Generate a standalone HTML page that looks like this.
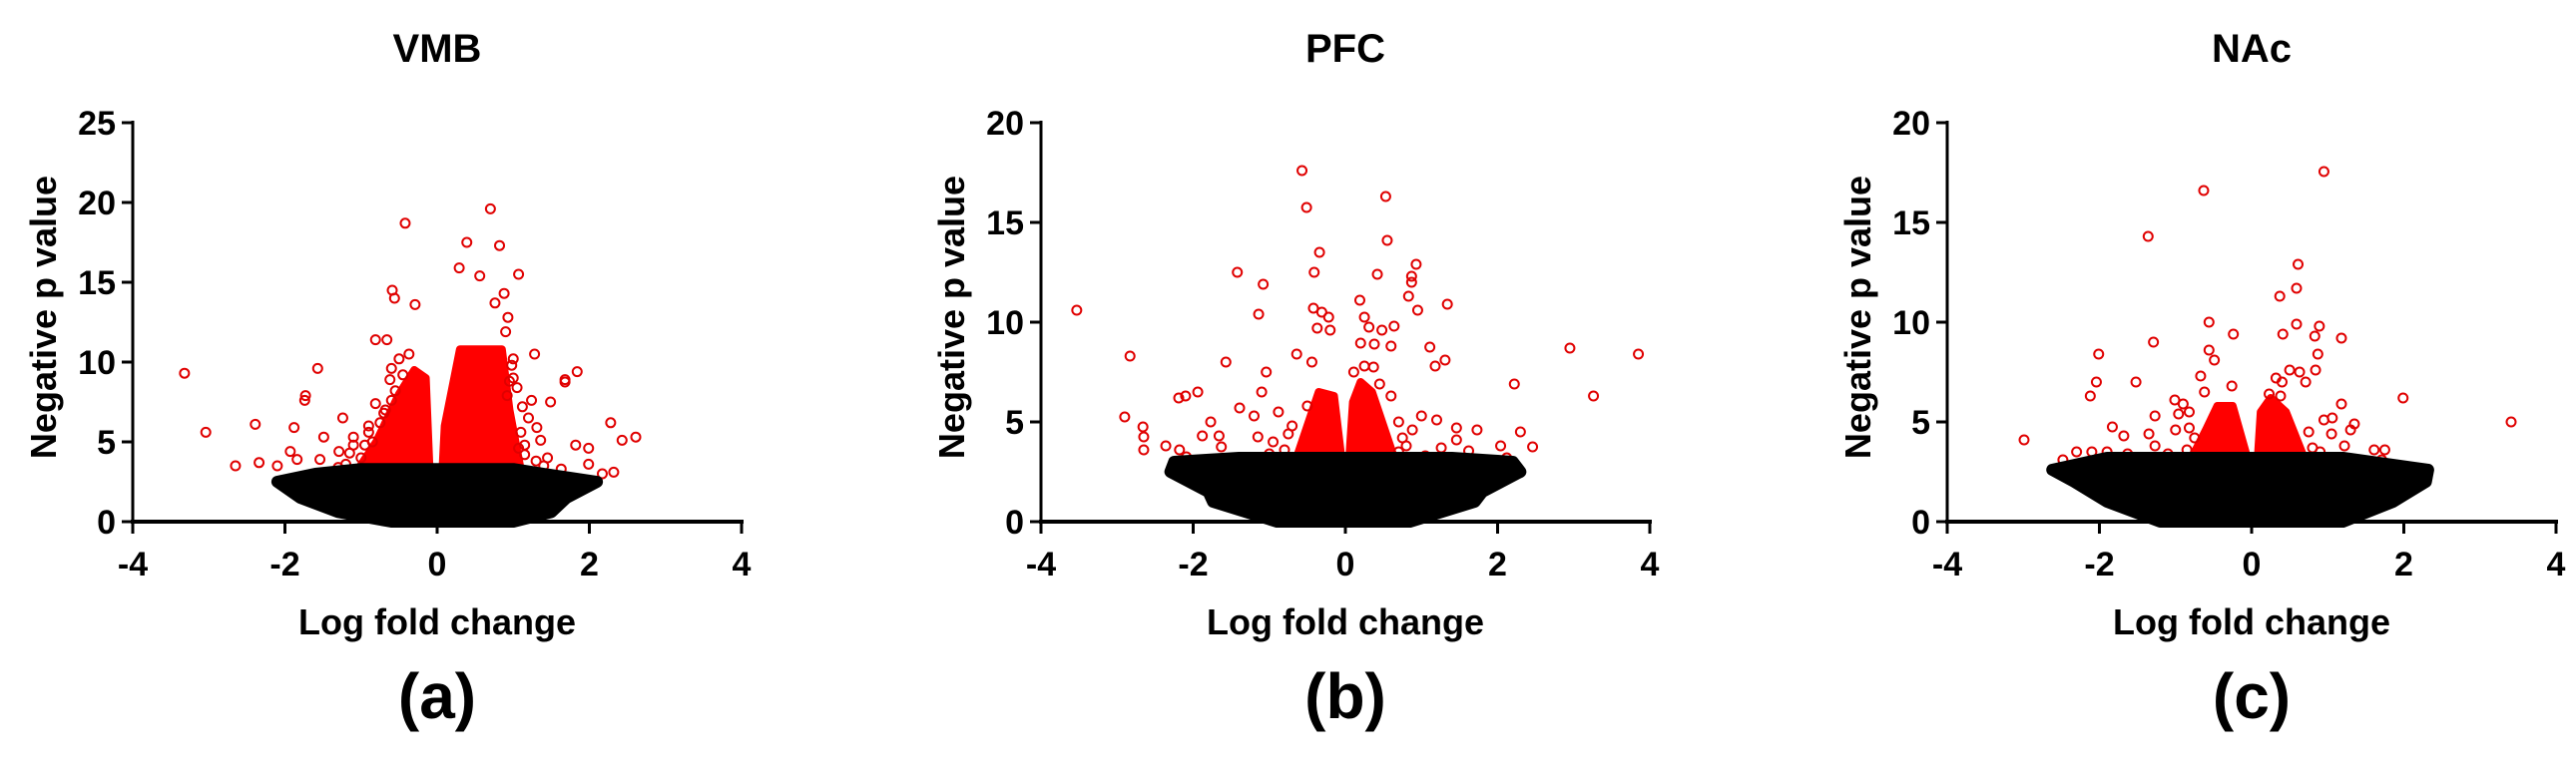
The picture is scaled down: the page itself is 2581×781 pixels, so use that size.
<!DOCTYPE html>
<html><head><meta charset="utf-8"><style>
html,body{margin:0;padding:0;background:#fff;}
svg{display:block;font-family:"Liberation Sans",Arial,sans-serif;font-weight:bold;}
</style></head><body>
<svg id="fig" width="2581" height="781" viewBox="0 0 2581 781" xmlns="http://www.w3.org/2000/svg"></svg>
<script>
// ---------- data ----------
const panelTitles = ["VMB", "PFC", "NAc"];
const panelLetters = ["(a)", "(b)", "(c)"];
const xTicks = [-4, -2, 0, 2, 4];
const yTicksA = [0, 5, 10, 15, 20, 25];
const yTicksB = [0, 5, 10, 15, 20];
const yTicksC = [0, 5, 10, 15, 20];

// non-significant (black) cloud envelope: y levels, left and right x bounds
const blackYA = [0, 0.6, 1.5, 2.5, 3.0, 3.3];
const blackLA = [-0.6, -1.3, -1.8, -2.1, -1.6, -1.0];
const blackRA = [1.0, 1.5, 1.7, 2.1, 1.4, 1.0];
const blackYB = [0, 1, 1.5, 2.5, 3.0, 3.2];
const blackLB = [-0.9, -1.74, -1.8, -2.3, -2.25, -1.4];
const blackRB = [0.85, 1.7, 1.8, 2.3, 2.2, 1.4];
const blackYC = [0, 1, 2, 2.6, 3.2];
const blackLC = [-1.2, -1.9, -2.33, -2.62, -1.9];
const blackRC = [1.2, 1.86, 2.29, 2.32, 1.2];

// dense significant (red) regions: polygon vertices [x, y]
const redDenseAX = [-1.05, -0.1, -0.15, -0.3, -0.5, -0.8];
const redDenseAY = [3.2, 3.2, 9.0, 9.5, 8.0, 5.0];
const redDenseA2X = [0.07, 1.1, 0.95, 0.85, 0.3, 0.1];
const redDenseA2Y = [3.2, 3.2, 7.0, 10.8, 10.8, 6.0];
const redDenseBX = [-0.65, -0.05, -0.15, -0.35, -0.5];
const redDenseBY = [3.1, 3.1, 6.3, 6.5, 4.8];
const redDenseB2X = [0.05, 0.65, 0.35, 0.2, 0.1];
const redDenseB2Y = [3.1, 3.1, 6.5, 7.0, 6.0];
const redDenseCX = [-0.8, -0.05, -0.25, -0.45, -0.6];
const redDenseCY = [3.1, 3.1, 5.8, 5.8, 4.6];
const redDenseC2X = [0.08, 0.7, 0.45, 0.25, 0.12];
const redDenseC2Y = [3.1, 3.1, 5.5, 6.2, 5.5];

// scattered significant points
const redAX = [0.70,-0.42,0.39,0.82,0.29,0.56,1.07,-0.59,-0.56,-0.29,0.88,0.76,0.93,0.9,-0.81,-0.66,1.28,-0.37,-3.32,-1.57,1.84,1.68,-0.62,-1.73,-1.74,-2.39,-3.04,-1.88,-1.24,-1.49,-1.1,-1.93,-2.65,-2.34,-2.1,-1.84,-1.54,-1.29,-0.81,1.24,1.49,2.28,1.31,1.1,1.36,1.82,1.99,2.61,2.43,1.99,2.32,2.17,1.68,0.92,1.07,1.63,-0.9,-0.7,-1.0,1.15,1.2,-0.85,-0.6,-0.95,-0.9,-0.75,-0.68,-0.55,-1.15,-1.2,-0.6,1.05,1.12,1.0,0.98,1.15,1.3,1.4,1.45,-1.1,-1.3,-0.5,-0.45,0.95,1.0];
const redAY = [19.6,18.7,17.5,17.3,15.9,15.4,15.5,14.5,14.0,13.6,14.3,13.7,12.8,11.9,11.4,11.4,10.5,10.5,9.3,9.6,9.4,8.9,8.9,7.9,7.6,6.1,5.6,5.9,6.5,5.3,5.3,4.4,3.5,3.7,3.5,3.9,3.9,4.4,7.4,7.6,7.5,6.2,5.9,5.6,5.1,4.8,4.6,5.3,5.1,3.6,3.1,3.0,8.75,7.9,4.6,3.3,6.0,6.8,4.0,4.2,6.5,5.0,7.6,4.8,5.6,6.2,7.0,8.2,4.3,3.6,9.6,8.4,7.2,9.0,9.8,4.8,3.8,3.5,4.0,4.8,3.4,10.2,9.2,8.8,10.2];
const redBX = [-0.57,-0.51,0.53,0.55,-0.34,-1.42,-0.41,0.42,0.93,0.87,0.87,-1.08,0.83,0.19,1.34,-3.53,-0.42,-0.31,-0.22,-1.14,0.95,0.25,0.64,0.31,0.48,-0.37,-0.2,0.2,0.38,0.6,1.11,2.95,3.85,-2.83,-0.64,1.31,-1.57,1.18,-0.44,-1.04,0.11,0.25,0.37,2.22,-1.1,-1.94,-2.1,-2.19,3.26,0.6,0.45,-1.39,-1.2,-2.9,-2.66,-2.65,-2.65,-2.36,-1.77,-1.88,-2.18,-2.09,-1.66,-1.63,-1.15,-0.88,1.0,1.2,1.46,1.46,1.73,2.3,2.46,2.04,1.62,1.26,0.88,2.12,-0.7,-0.5,0.7,-0.95,0.8,-0.8,-0.75,0.75,0.7,-1.0,1.05];
const redBY = [17.6,15.75,16.3,14.1,13.5,12.5,12.5,12.4,12.9,12.3,12.0,11.9,11.3,11.1,10.9,10.6,10.7,10.5,10.25,10.4,10.6,10.25,9.8,9.75,9.6,9.7,9.6,8.95,8.9,8.8,8.75,8.7,8.4,8.3,8.4,8.1,8.0,7.8,8.0,7.5,7.5,7.8,7.75,6.9,6.5,6.5,6.3,6.2,6.3,6.3,6.9,5.7,5.3,5.25,4.75,4.25,3.6,3.8,5.0,4.3,3.6,3.25,4.3,3.75,4.25,5.5,5.3,5.1,4.7,4.1,4.6,4.5,3.75,3.8,3.55,3.7,4.6,3.2,4.8,5.8,5.0,4.0,3.8,3.6,4.4,4.2,3.5,3.4,3.3];
const redCX = [0.95,-0.63,-1.36,0.61,0.59,0.37,-0.56,0.59,0.89,-0.24,0.41,0.83,1.18,-1.29,-0.56,-0.49,-2.01,0.87,0.5,0.63,0.84,-0.67,-2.04,-1.52,0.32,0.4,0.71,-0.26,-2.12,-0.62,0.23,0.38,1.99,1.18,-1.01,-0.9,-1.27,-0.96,-0.82,3.41,0.95,1.06,1.35,-1.83,-1.0,-0.82,1.05,1.3,-1.68,-1.35,-2.99,-1.27,1.22,1.61,1.75,-2.3,-2.1,-1.9,-1.63,-2.48,0.99,1.71,0.75,-0.75,-0.85,0.8,-1.1,0.9];
const redCY = [17.55,16.6,14.3,12.9,11.7,11.3,10.0,9.9,9.8,9.4,9.4,9.3,9.2,9.0,8.6,8.1,8.4,8.4,7.6,7.5,7.6,7.3,7.0,7.0,7.2,7.0,7.0,6.8,6.3,6.5,6.4,6.3,6.2,5.9,6.1,5.9,5.3,5.4,5.5,5.0,5.1,5.2,4.9,4.75,4.6,4.7,4.4,4.6,4.3,4.4,4.1,3.8,3.8,3.6,3.6,3.5,3.5,3.5,3.4,3.1,3.2,3.1,4.5,4.2,3.6,3.7,3.4,3.5];

// ---------- drawing ----------
const NS = "http://www.w3.org/2000/svg";
const svg = document.getElementById("fig");
function mk(tag, attrs, parent){ const e=document.createElementNS(NS,tag); for(const k in attrs) e.setAttribute(k,attrs[k]); (parent||svg).appendChild(e); return e; }

const panels = [
  {x0:133, yMax:25, yTicks:yTicksA, bY:blackYA,bL:blackLA,bR:blackRA, d1x:redDenseAX,d1y:redDenseAY,d2x:redDenseA2X,d2y:redDenseA2Y, rx:redAX, ry:redAY},
  {x0:1043, yMax:20, yTicks:yTicksB, bY:blackYB,bL:blackLB,bR:blackRB, d1x:redDenseBX,d1y:redDenseBY,d2x:redDenseB2X,d2y:redDenseB2Y, rx:redBX, ry:redBY},
  {x0:1951, yMax:20, yTicks:yTicksC, bY:blackYC,bL:blackLC,bR:blackRC, d1x:redDenseCX,d1y:redDenseCY,d2x:redDenseC2X,d2y:redDenseC2Y, rx:redCX, ry:redCY}
];
const W = 610, Y0 = 523, YTOP = 123;

panels.forEach((p, i) => {
  const g = mk("g", {});
  
  
  const sx = v => p.x0 + (v + 4) / 8 * W;
  const sy = v => Y0 - v / p.yMax * (Y0 - YTOP);
  const cx = p.x0 + W / 2;

  const t = mk("text", {x:cx, y:62, "text-anchor":"middle", "font-size":40}, g);
  t.textContent = panelTitles[i];
  
  

  [[p.d1x,p.d1y],[p.d2x,p.d2y]].forEach(([xs, ys]) => {
    const poly = mk("polygon", {points:xs.map((x,k)=>sx(x)+","+sy(ys[k])).join(" "), fill:"#ff0000", stroke:"#f00", "stroke-width":8, "stroke-linejoin":"round"}, g);
    
    
  });

  p.rx.forEach((x, k) => {
    const c = mk("circle", {cx:sx(x), cy:sy(p.ry[k]), r:4.5, fill:"none", stroke:"#e00000", "stroke-width":2}, g);
    
    
  });

  // black envelope polygon
  let pts = [];
  p.bY.forEach((y, k) => pts.push(sx(p.bL[k]) + "," + sy(y)));
  for (let k = p.bY.length - 1; k >= 0; k--) pts.push(sx(p.bR[k]) + "," + sy(p.bY[k]));
  const blk = mk("polygon", {points:pts.join(" "), fill:"#000", stroke:"#000", "stroke-width":12, "stroke-linejoin":"round"}, g);
  
  

  // axes
  const ya = mk("line", {x1:p.x0, y1:YTOP-2, x2:p.x0, y2:Y0+2, stroke:"#000", "stroke-width":3}, g);
  
  
  const xa = mk("line", {x1:p.x0-2, y1:Y0, x2:p.x0+W+2, y2:Y0, stroke:"#000", "stroke-width":4}, g);
  
  

  p.yTicks.forEach(v => {
    mk("line", {x1:p.x0-11, y1:sy(v), x2:p.x0, y2:sy(v), stroke:"#000", "stroke-width":3}, g);
    const tl = mk("text", {x:p.x0-17, y:sy(v)+12, "text-anchor":"end", "font-size":34}, g);
    tl.textContent = v;
    
    
  });
  xTicks.forEach(v => {
    mk("line", {x1:sx(v), y1:Y0, x2:sx(v), y2:Y0+12, stroke:"#000", "stroke-width":3}, g);
    const tl = mk("text", {x:sx(v), y:577, "text-anchor":"middle", "font-size":34}, g);
    tl.textContent = v;
    
    
  });

  const yl = mk("text", {x:0, y:0, "text-anchor":"middle", "font-size":36, transform:"translate(" + (p.x0-77) + ",318) rotate(-90)"}, g);
  yl.textContent = "Negative p value";
  
  

  const xl = mk("text", {x:cx, y:636, "text-anchor":"middle", "font-size":36}, g);
  xl.textContent = "Log fold change";
  
  

  const pl = mk("text", {x:cx, y:720, "text-anchor":"middle", "font-size":64}, g);
  pl.textContent = panelLetters[i];
  
  
});
</script>
</body></html>
